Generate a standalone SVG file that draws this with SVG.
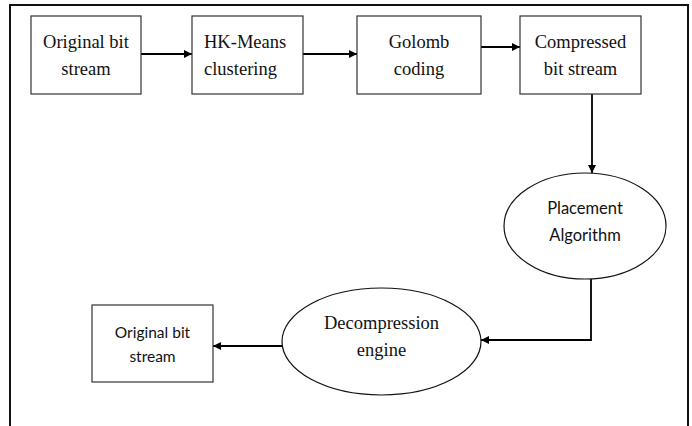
<svg xmlns="http://www.w3.org/2000/svg" width="692" height="426" viewBox="0 0 692 426">
<style>
.box{fill:#fff;stroke:#333;stroke-width:1.2}
.ell{fill:#fff;stroke:#111;stroke-width:1.2}
.conn{fill:none;stroke:#000;stroke-width:1.8}
.serif{font-family:"Liberation Serif","Times New Roman",serif;font-size:18.5px;fill:#111}
.sans{font-family:Lato,"Open Sans",sans-serif;fill:#111}
.frame{fill:none;stroke:#111;stroke-width:2}
</style>
<defs>
<marker id="ah" viewBox="0 0 10 10" refX="10" refY="5" markerWidth="8" markerHeight="8" markerUnits="userSpaceOnUse" orient="auto">
<path d="M0,0 L10,5 L0,10 z" fill="#000"/>
</marker>
</defs>
<rect width="692" height="426" fill="#fff"/>
<path class="frame" d="M10,426 L10,5 L688,5 L688,426"/>
<g id="connectors">
<line class="conn" x1="141" y1="54" x2="192" y2="54" marker-end="url(#ah)"/>
<line class="conn" x1="303" y1="54" x2="357" y2="54" marker-end="url(#ah)"/>
<line class="conn" x1="481" y1="47" x2="520" y2="47" marker-end="url(#ah)"/>
<line class="conn" x1="592" y1="94" x2="592" y2="173" marker-end="url(#ah)"/>
<path class="conn" d="M591,279 L591,340 L481,340" marker-end="url(#ah)"/>
<line class="conn" x1="282" y1="346" x2="213" y2="346" marker-end="url(#ah)"/>
</g>
<g id="n1">
<rect class="box" x="31" y="16" width="110" height="78"/>
<text class="serif" x="86" y="48" text-anchor="middle">Original bit</text>
<text class="serif" x="86" y="75" text-anchor="middle">stream</text>
</g>
<g id="n2">
<rect class="box" x="192" y="16" width="111" height="78"/>
<text class="serif" x="204" y="48">HK-Means</text>
<text class="serif" x="204" y="75">clustering</text>
</g>
<g id="n3">
<rect class="box" x="357" y="16" width="124" height="78"/>
<text class="serif" x="419" y="48" text-anchor="middle">Golomb</text>
<text class="serif" x="419" y="75" text-anchor="middle">coding</text>
</g>
<g id="n4">
<rect class="box" x="520" y="16" width="121" height="78"/>
<text class="serif" x="580.5" y="48" text-anchor="middle">Compressed</text>
<text class="serif" x="580.5" y="75" text-anchor="middle">bit stream</text>
</g>
<g id="n5">
<ellipse class="ell" cx="585" cy="226" rx="81" ry="53"/>
<text class="sans" x="585" y="214" text-anchor="middle" font-size="16.5">Placement</text>
<text class="sans" x="585" y="241" text-anchor="middle" font-size="16.5">Algorithm</text>
</g>
<g id="n6">
<ellipse class="ell" cx="381.5" cy="341.5" rx="99.5" ry="53.5"/>
<text class="serif" x="381.5" y="329" text-anchor="middle" font-size="18.5">Decompression</text>
<text class="serif" x="381.5" y="356" text-anchor="middle" font-size="18.5">engine</text>
</g>
<g id="n7">
<rect class="box" x="92" y="305" width="121" height="77"/>
<text class="sans" x="152.5" y="338" text-anchor="middle" font-size="15.5">Original bit</text>
<text class="sans" x="152.5" y="362" text-anchor="middle" font-size="15.5">stream</text>
</g>
</svg>
